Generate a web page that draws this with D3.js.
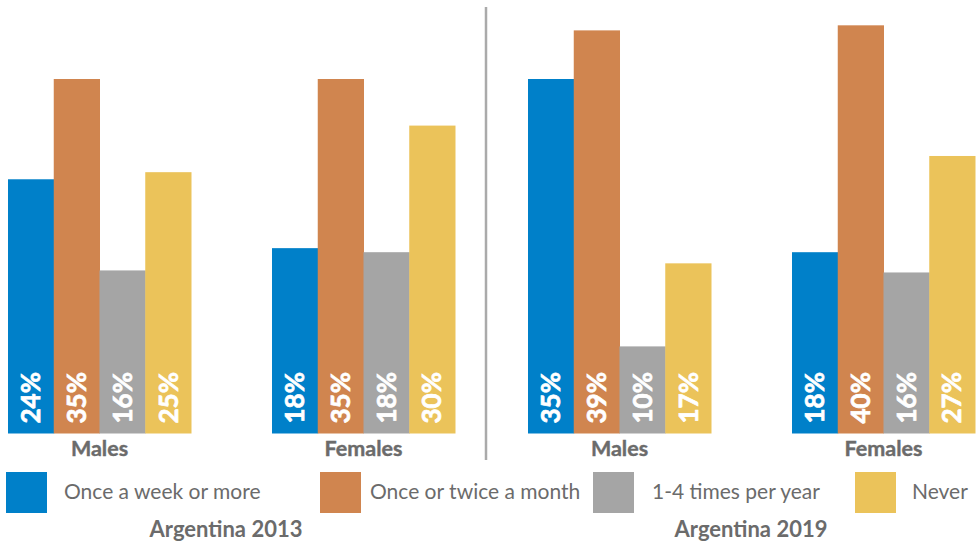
<!DOCTYPE html>
<html>
<head>
<meta charset="utf-8">
<script src="https://cdn.jsdelivr.net/npm/d3@7"></script>
<style>
  html, body { margin: 0; padding: 0; background: #fff; }
  svg { display: block; font-family: Lato, "Open Sans", sans-serif; }
</style>
</head>
<body>
<svg id="chart" width="976" height="545"></svg>
<script>
// data
var categories = ["Once a week or more", "Once or twice a month", "1-4 times per year", "Never"];
var sexes = ["Males", "Females"];
var years = ["Argentina 2013", "Argentina 2019"];
var colors = ["#0080c9", "#d0854f", "#a5a5a5", "#ebc35a"];

// bar heights (percent)
var males2013 = [25.1, 35.0, 16.1, 25.8];
var females2013 = [18.3, 35.0, 17.9, 30.4];
var males2019 = [35.0, 39.8, 8.6, 16.8];
var females2019 = [17.9, 40.3, 15.9, 27.4];

// printed labels
var males2013Labels = ["24%", "35%", "16%", "25%"];
var females2013Labels = ["18%", "35%", "18%", "30%"];
var males2019Labels = ["35%", "39%", "10%", "17%"];
var females2019Labels = ["18%", "40%", "16%", "27%"];

var panels = [
    { year: years[0], groups: [
        { sex: sexes[0], values: males2013, labels: males2013Labels },
        { sex: sexes[1], values: females2013, labels: females2013Labels } ] },
    { year: years[1], groups: [
        { sex: sexes[0], values: males2019, labels: males2019Labels },
        { sex: sexes[1], values: females2019, labels: females2019Labels } ] }
];

var svg = d3.select("#chart");
var textColor = "#6b6b6b";
var baseline = 433.5;

var xYear = d3.scaleBand()
    .domain(years)
    .range([8, 975])
    .paddingInner(0.1404)
    .paddingOuter(0);

var xSex = d3.scaleBand()
    .domain(sexes)
    .range([0, xYear.bandwidth()])
    .paddingInner(0.3068)
    .paddingOuter(0);

var xCat = d3.scaleBand()
    .domain(categories)
    .range([0, xSex.bandwidth()]);

var y = d3.scaleLinear()
    .domain([0, 35])
    .range([baseline, 79]);

var color = d3.scaleOrdinal().domain(categories).range(colors);

var panelG = svg.selectAll("g.panel")
    .data(panels).enter()
  .append("g")
    .attr("class", "panel")
    .attr("transform", function(d) { return "translate(" + xYear(d.year) + ",0)"; });

var g = panelG.selectAll("g.group")
    .data(function(d) { return d.groups; }).enter()
  .append("g")
    .attr("class", "group")
    .attr("transform", function(d) { return "translate(" + xSex(d.sex) + ",0)"; });

var bars = g.selectAll("g.bar")
    .data(function(d) {
        return categories.map(function(c, j) { return { cat: c, value: d.values[j], label: d.labels[j] }; });
    }).enter()
  .append("g")
    .attr("class", "bar");

bars.append("rect")
    .attr("x", function(d) { return xCat(d.cat); })
    .attr("y", function(d) { return y(d.value); })
    .attr("width", xCat.bandwidth() + 0.5)
    .attr("height", function(d) { return baseline - y(d.value); })
    .attr("fill", function(d) { return color(d.cat); });

// rotated value labels, a thin stroke makes them as heavy as the original
bars.append("text")
    .attr("transform", function(d) {
        return "translate(" + (xCat(d.cat) + xCat.bandwidth() / 2) + "," + (baseline - 10) + ") rotate(-90)";
    })
    .attr("dy", "0.36em")
    .attr("fill", "#fff")
    .attr("stroke", "#fff")
    .attr("stroke-width", 0.7)
    .attr("font-size", 26)
    .attr("font-weight", "bold")
    .text(function(d) { return d.label; });

g.append("text")
    .attr("x", xSex.bandwidth() / 2)
    .attr("y", 455.5)
    .attr("text-anchor", "middle")
    .attr("fill", textColor)
    .attr("stroke", textColor)
    .attr("stroke-width", 0.4)
    .attr("font-size", 21.5)
    .attr("font-weight", "bold")
    .text(function(d) { return d.sex; });

// divider between the two years
svg.append("line")
    .attr("x1", 486).attr("x2", 486)
    .attr("y1", 7).attr("y2", 460)
    .attr("stroke", "#aaaaaa")
    .attr("stroke-width", 2.5);

// legend
var legendX = [6, 320, 593, 855];
var legendTextX = [64, 370, 652, 912];

var legend = svg.selectAll("g.legend")
    .data(categories).enter()
  .append("g")
    .attr("class", "legend");

legend.append("rect")
    .attr("x", function(d, i) { return legendX[i]; })
    .attr("y", 472)
    .attr("width", 41)
    .attr("height", 41)
    .attr("fill", function(d) { return color(d); });

legend.append("text")
    .attr("x", function(d, i) { return legendTextX[i]; })
    .attr("y", 498.5)
    .attr("fill", textColor)
    .attr("font-size", 21)
    .text(function(d) { return d; });

// year titles
var yearCenter = [226, 751];
svg.selectAll("text.year")
    .data(years).enter()
  .append("text")
    .attr("class", "year")
    .attr("x", function(d, i) { return yearCenter[i]; })
    .attr("y", 537)
    .attr("text-anchor", "middle")
    .attr("fill", textColor)
    .attr("font-size", 22)
    .attr("font-weight", "bold")
    .text(function(d) { return d; });
</script>
</body>
</html>
